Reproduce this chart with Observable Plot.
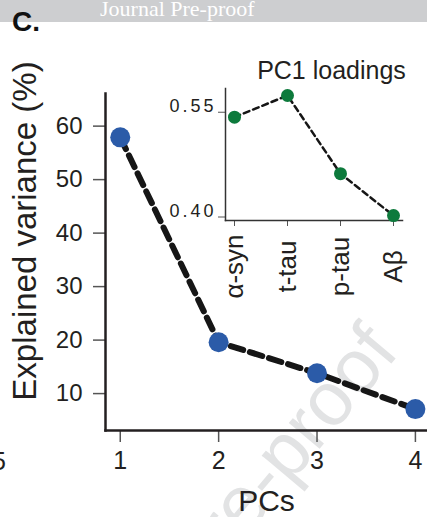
<!DOCTYPE html>
<html>
<head>
<meta charset="utf-8">
<script src="https://cdn.jsdelivr.net/npm/d3@7"></script>
<script src="https://cdn.jsdelivr.net/npm/@observablehq/plot@0.6"></script>
<style>
html, body { margin: 0; padding: 0; background: #fff; }
#wrap { position: relative; width: 427px; height: 517px; overflow: hidden; font-family: "Liberation Sans", Arial, sans-serif; color: #231f20; }
#main, #inset { position: absolute; }
#main { left: 0; top: 0; }
#inset { left: 150px; top: 50px; }
#banner { position: absolute; left: 0; top: 0; width: 427px; height: 22px; background: #cdced0; overflow: hidden; }
#banner span { position: absolute; left: 100px; top: -2px; font-family: "Liberation Serif", serif; font-size: 22px; line-height: 22px; color: #fff; white-space: nowrap; }
#panel { position: absolute; left: 12px; top: 7px; font-size: 28px; font-weight: bold; line-height: 30px; color: #111; }
#frag { position: absolute; left: -8px; top: 449px; font-size: 25px; line-height: 25px; color: #231f20; }
#inset g[aria-label="y-axis tick label"] text { letter-spacing: 3px; }
</style>
</head>
<body>
<div id="wrap">
  <div id="main"></div>
  <div id="inset"></div>
  <div id="banner"><span>Journal Pre-proof</span></div>
  <div id="panel">C.</div>
  <div id="frag">5</div>
</div>
<script>
// Main panel: explained variance per principal component
const pcs = [1, 2, 3, 4];
const explained = [57.9, 19.6, 13.8, 7.1];
const varianceTicks = [10, 20, 30, 40, 50, 60];
const yLabel = "Explained variance (%)";
const xLabel = "PCs";

// Inset: PC1 loadings
const markers = ["α-syn", "t-tau", "p-tau", "Aβ"];
const loadings = [0.543, 0.574, 0.462, 0.402];
const loadingTicks = [0.40, 0.55];
const insetTitle = "PC1 loadings";

const watermark = ["Journal Pre-proof"];

const mainData = pcs.map((pc, i) => ({pc, value: explained[i]}));
const insetData = markers.map((m, i) => ({marker: m, loading: loadings[i]}));

const ink = "#231f20";
const font = "Liberation Sans, Arial, sans-serif";

const main = Plot.plot({
  width: 427,
  height: 517,
  marginLeft: 105,
  marginRight: 0,
  marginTop: 93,
  marginBottom: 87,
  style: {fontFamily: font, color: ink, background: "transparent", overflow: "visible"},
  x: {domain: [0.85, 4.123]},
  y: {domain: [3.1, 66.1]},
  marks: [
    Plot.text(watermark, {frameAnchor: "top-left", dx: 400 - 105, dy: 352 - 93, rotate: -50, textAnchor: "end", lineAnchor: "bottom", fontSize: 76, fill: "#e2e3e4"}),
    Plot.axisY(varianceTicks, {tickSize: 12, tickPadding: 11, fontSize: 24, stroke: "#555", strokeWidth: 1.5, fill: ink, label: null}),
    Plot.axisX(pcs, {tickSize: 12, tickPadding: 9, fontSize: 25, stroke: "#555", strokeWidth: 1.5, fill: ink, label: xLabel, labelAnchor: "center", labelOffset: 80, labelArrow: "none"}),
    Plot.frame({anchor: "left", stroke: ink, strokeWidth: 2.5}),
    Plot.frame({anchor: "bottom", stroke: ink, strokeWidth: 2.5}),
    Plot.text([yLabel], {frameAnchor: "left", dx: -80, dy: -31, rotate: -90, fontSize: 33, textAnchor: "middle", lineAnchor: "middle", fill: ink}),
    Plot.line(mainData, {x: "pc", y: "value", stroke: "#161616", strokeWidth: 6, strokeDasharray: "13,7"}),
    Plot.dot(mainData, {x: "pc", y: "value", r: 10, fill: "#2b5ba8", stroke: "none"})
  ]
});
main.querySelectorAll("g[aria-label='x-axis label'] text, g[aria-label='x-axis label']").forEach(e => e.setAttribute("font-size", 30));
document.getElementById("main").appendChild(main);

const inset = Plot.plot({
  width: 270,
  height: 270,
  marginLeft: 75,
  marginRight: 18,
  marginTop: 38,
  marginBottom: 100,
  style: {fontFamily: font, color: ink, background: "transparent", overflow: "visible"},
  x: {type: "point", domain: markers, padding: 0.16},
  y: {domain: [0.395, 0.584]},
  marks: [
    Plot.axisY(loadingTicks, {tickSize: 7, tickPadding: 2, fontSize: 18, tickFormat: d3.format(".2f"), lineAnchor: "bottom", stroke: "#555", fill: ink, label: null}),
    Plot.axisX(markers, {tickSize: 6, tickPadding: 40, tickRotate: -90, textAnchor: "middle", lineAnchor: "middle", fontSize: 26, stroke: "#555", fill: ink, label: null}),
    Plot.frame({anchor: "left", stroke: "#333", strokeWidth: 1.5}),
    Plot.frame({anchor: "bottom", stroke: "#333", strokeWidth: 1.5}),
    Plot.text([insetTitle], {frameAnchor: "top", dx: 17.5, dy: -10, lineAnchor: "bottom", fontSize: 25, fill: ink}),
    Plot.line(insetData, {x: "marker", y: "loading", stroke: "#161616", strokeWidth: 2.5, strokeDasharray: "6,4"}),
    Plot.dot(insetData, {x: "marker", y: "loading", r: 6.5, fill: "#0d7a3c", stroke: "none"})
  ]
});
document.getElementById("inset").appendChild(inset);
</script>
</body>
</html>
